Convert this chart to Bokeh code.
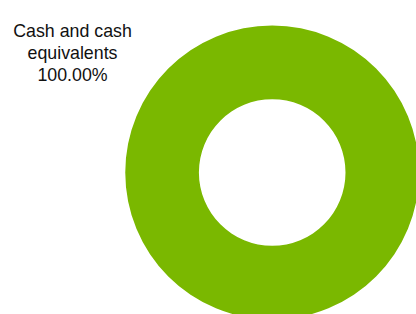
import numpy as np
from bokeh.plotting import figure
from bokeh.models import ColumnDataSource, Range1d
from bokeh.core.properties import value
from bokeh.embed import file_html
from bokeh.resources import INLINE

categories = ["Cash and cash equivalents"]
values = [100.0]
colors = ["#7AB800"]
label_lines = [["Cash and cash", "equivalents"]]

W, H = 416, 314
p = figure(width=W, height=H, output_backend="svg", toolbar_location=None,
           x_range=Range1d(0, W), y_range=Range1d(0, H), min_border=0)
p.axis.visible = False
p.grid.visible = False
p.outline_line_color = None
p.background_fill_color = "white"
p.border_fill_color = "white"

vals = np.array(values)
frac = vals / vals.sum()
ends = np.cumsum(frac) * 2 * np.pi
starts = ends - frac * 2 * np.pi
cx, cy = 271.7, H - 172
src = ColumnDataSource(dict(start=np.pi / 2 - starts, end=np.pi / 2 - ends, color=colors))
p.annular_wedge(x=cx, y=cy, inner_radius=73.3, outer_radius=147,
                start_angle="end", end_angle="start", fill_color="color",
                line_color=None, source=src)

tx = 72.0
ys = [H - 30, H - 52, H - 74]
lines = label_lines[0] + ["%.2f%%" % values[0]]
p.text(x=[tx] * 3, y=ys, text=lines, text_align="center", text_baseline="alphabetic",
       text_font=value("Liberation Sans"), text_font_size="17.8px", text_color="#111111")

open("out.html", "w").write(file_html(p, INLINE))
